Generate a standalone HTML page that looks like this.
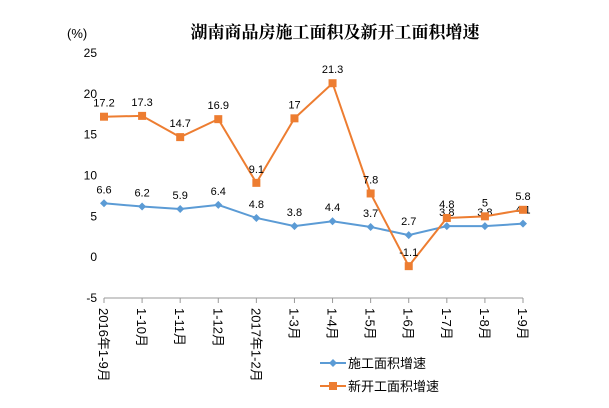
<!DOCTYPE html>
<html><head><meta charset="utf-8"><style>
body{margin:0;background:#fff;}
svg text{font-family:"Liberation Sans","Noto Sans CJK SC",sans-serif;}
</style></head><body>
<svg id="c" width="609" height="403" viewBox="0 0 609 403" xmlns="http://www.w3.org/2000/svg">
<text x="335" y="38" text-anchor="middle" font-size="17" font-weight="bold" style="font-family:'Noto Serif CJK SC','Noto Sans CJK SC',serif">湖南商品房施工面积及新开工面积增速</text>
<text x="67" y="38" font-size="13">(%)</text>
<g id="plot"></g>
</svg>
<script>
const categories=["2016年1-9月","1-10月","1-11月","1-12月","2017年1-2月","1-3月","1-4月","1-5月","1-6月","1-7月","1-8月","1-9月"];
const constructionGrowth=[6.6,6.2,5.9,6.4,4.8,3.8,4.4,3.7,2.7,3.8,3.8,4.1];
const newStartGrowth=[17.2,17.3,14.7,16.9,9.1,17,21.3,7.8,-1.1,4.8,5,5.8];
const yTicks=[-5,0,5,10,15,20,25];
const seriesNames=["施工面积增速","新开工面积增速"];
const NS="http://www.w3.org/2000/svg";
const g=document.getElementById('plot');
const x0=104,x1=523,yTop=53,yBot=298,vMin=-5,vMax=25;
const xs=i=>x0+(x1-x0)*i/(categories.length-1);
const ys=v=>yBot-(v-vMin)/(vMax-vMin)*(yBot-yTop);
function el(t,a){const e=document.createElementNS(NS,t);for(const k in a)e.setAttribute(k,a[k]);g.appendChild(e);return e;}
yTicks.forEach(t=>{const e=el('text',{x:97,y:ys(t)+4,'text-anchor':'end','font-size':12,fill:'#000'});e.textContent=t;

});
const ax=el('line',{x1:x0,x2:x1,y1:yBot,y2:yBot,stroke:'#999','stroke-width':1});


categories.forEach((c,i)=>{
const tk=el('line',{x1:xs(i),x2:xs(i),y1:yBot,y2:yBot+5,stroke:'#999'});


const t=el('text',{x:0,y:0,'font-size':13,transform:`translate(${xs(i)-5},${yBot+10}) rotate(90)`});
t.textContent=c;


});
function series(vals,color,marker,name,dy){
const pts=vals.map((v,i)=>xs(i)+','+ys(v)).join(' ');
const l=el('polyline',{points:pts,fill:'none',stroke:color,'stroke-width':2});


vals.forEach((v,i)=>{
let m;
if(marker==='sq'){m=el('rect',{x:xs(i)-4,y:ys(v)-4,width:8,height:8,fill:color});}
else{m=el('polygon',{points:`${xs(i)},${ys(v)-4} ${xs(i)+4},${ys(v)} ${xs(i)},${ys(v)+4} ${xs(i)-4},${ys(v)}`,fill:color});}


const t=el('text',{x:xs(i),y:ys(v)+dy,'text-anchor':'middle','font-size':11});
t.textContent=v;


});
}
series(constructionGrowth,'#5b9bd5','dia','construction',-10);
series(newStartGrowth,'#ed7d31','sq','new-start',-10);
[['#5b9bd5','dia',363,seriesNames[0]],['#ed7d31','sq',386,seriesNames[1]]].forEach((d,k)=>{
const l=el('line',{x1:320,x2:346,y1:d[2],y2:d[2],stroke:d[0],'stroke-width':2});


let m;
if(d[1]==='sq')m=el('rect',{x:329,y:d[2]-4,width:8,height:8,fill:d[0]});
else m=el('polygon',{points:`333,${d[2]-4} 337,${d[2]} 333,${d[2]+4} 329,${d[2]}`,fill:d[0]});


const t=el('text',{x:348,y:d[2]+5,'font-size':13});t.textContent=d[3];


});
</script>
</body></html>
